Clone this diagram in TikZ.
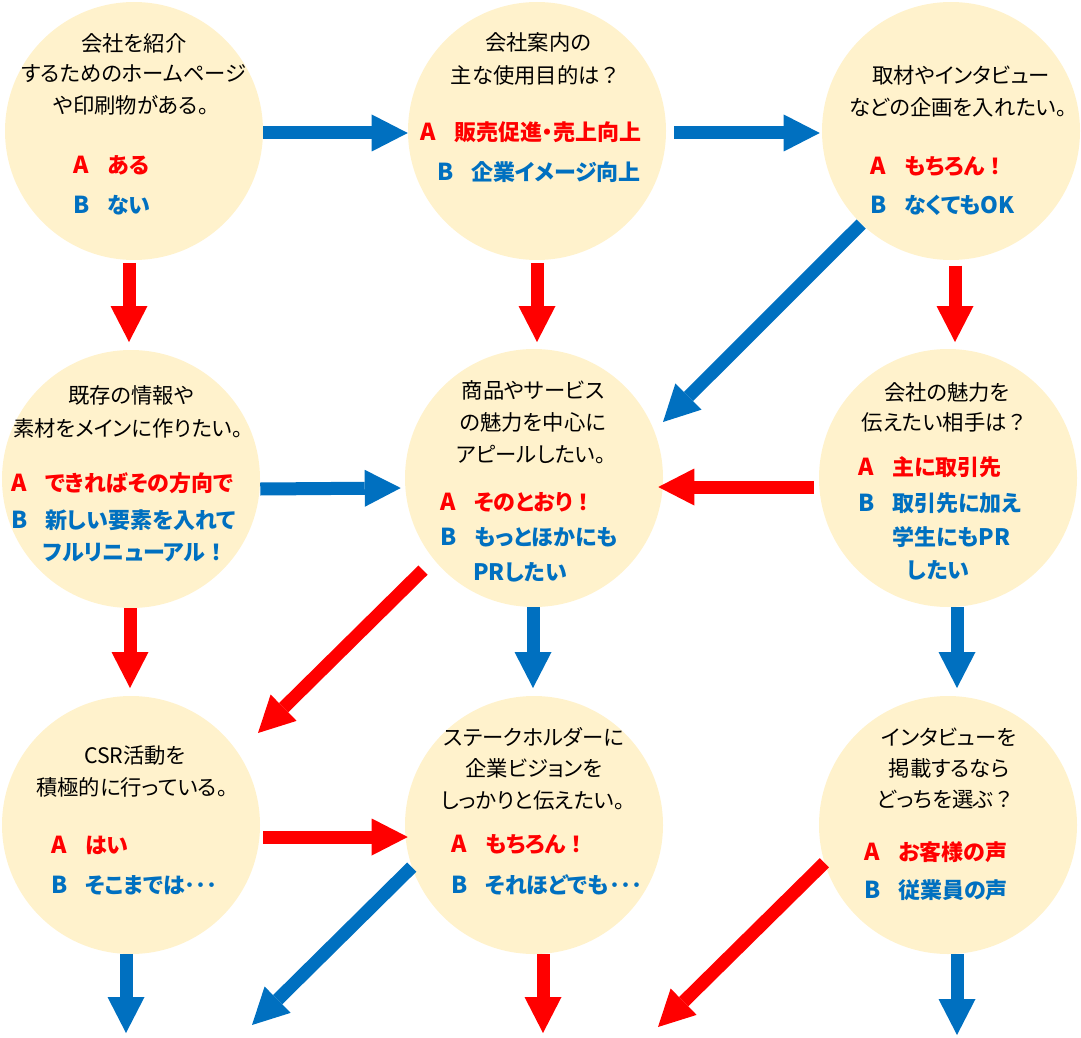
\documentclass[tikz,border=0pt]{standalone}
\usepackage{fontspec}
\setmainfont{Noto Sans CJK JP}[RawFeature=+palt]
\newfontfamily\jpfull{Noto Sans CJK JP}
\usetikzlibrary{arrows.meta}
\definecolor{cfill}{HTML}{FFF2CC}
\definecolor{cred}{HTML}{FF0000}
\definecolor{cblue}{HTML}{0070C0}
\newcommand{\opt}[2]{\makebox[25.5pt][l]{\fontsize{17.5pt}{18pt}\selectfont #1}#2}
\newcommand{\fw}[1]{{\jpfull #1}}
\tikzset{
  qcircle/.style={circle, fill=cfill, minimum size=193.5pt, inner sep=0pt},
  qtext/.style={font=\fontsize{16pt}{18pt}\selectfont, text=black, inner sep=0pt, anchor=center},
  atext/.style={font=\bfseries\fontsize{16.5pt}{18pt}\selectfont, text=cred, inner sep=0pt, anchor=west},
  btext/.style={font=\bfseries\fontsize{16.5pt}{18pt}\selectfont, text=cblue, inner sep=0pt, anchor=west},
  arr/.style={line width=9.75pt, -{Triangle[length=27pt,width=27.75pt,line width=0pt]}},
  barrow/.style={arr, draw=cblue},
  rarrow/.style={arr, draw=cred},
}
\begin{document}
\begin{tikzpicture}[x=0.75pt,y=-0.75pt]
\useasboundingbox (0,0) rectangle (1081,1038);
% circles
\node[qcircle] (c1) at (134,131) {};
\node[qcircle] (c2) at (537,131) {};
\node[qcircle] (c3) at (951,131) {};
\node[qcircle] (c4) at (131,479) {};
\node[qcircle] (c5) at (534,478) {};
\node[qcircle] (c6) at (948,478) {};
\node[qcircle] (c7) at (131,825) {};
\node[qcircle] (c8) at (534,825) {};
\node[qcircle] (c9) at (948,825) {};
% circle 1
\node[qtext] (t1a) at (134,43) {会社を紹介};
\node[qtext] (t1b) at (134,74) {するためのホームページ};
\node[qtext] (t1c) at (131,105) {や印刷物がある。};
\node[atext] (o1a) at (73,165) {\opt{A}{ある}};
\node[btext] (o1b) at (73,205) {\opt{B}{ない}};
% circle 2
\node[qtext] (t2a) at (538,42) {会社案内の};
\node[qtext] (t2b) at (536,75) {主な使用目的は\fw{？}};
\node[atext] (o2a) at (420,132) {\opt{A}{販売促進・売上向上}};
\node[btext] (o2b) at (437,172) {\opt{B}{企業イメージ向上}};
% circle 3
\node[qtext] (t3a) at (961,75) {取材やインタビュー};
\node[qtext] (t3b) at (958,107) {などの企画を入れたい。};
\node[atext] (o3a) at (870,167) {\opt{A}{もちろん\fw{！}}};
\node[btext] (o3b) at (870,205) {\opt{B}{なくても{\fontsize{17pt}{18pt}\selectfont OK}}};
% circle 4
\node[qtext] (t4a) at (131,395) {既存の情報や};
\node[qtext] (t4b) at (128,428) {素材をメインに作りたい。};
\node[atext] (o4a) at (11,483) {\opt{A}{できればその方向で}};
\node[btext] (o4b) at (11,520) {\opt{B}{新しい要素を入れて}};
\node[btext] (o4c) at (43,553) {フルリニューアル\fw{！}};
% circle 5
\node[qtext] (t5a) at (533,390) {商品やサービス};
\node[qtext] (t5b) at (533,422) {の魅力を中心に};
\node[qtext] (t5c) at (531,455) {アピールしたい。};
\node[atext] (o5a) at (440,502) {\opt{A}{そのとおり\fw{！}}};
\node[btext] (o5b) at (440,537) {\opt{B}{もっとほかにも}};
\node[btext] (o5c) at (473,572) {{\fontsize{17pt}{18pt}\selectfont PR}したい};
% circle 6
\node[qtext] (t6a) at (947,392) {会社の魅力を};
\node[qtext] (t6b) at (945,422) {伝えたい相手は\fw{？}};
\node[atext] (o6a) at (858,467) {\opt{A}{主に取引先}};
\node[btext] (o6b) at (858,503) {\opt{B}{取引先に加え}};
\node[btext] (o6c) at (892,537) {学生にも{\fontsize{17pt}{18pt}\selectfont PR}};
\node[btext] (o6d) at (907,570) {したい};
% circle 7
\node[qtext] (t7a) at (135,755) {CSR活動を};
\node[qtext] (t7b) at (132,787) {積極的に行っている。};
\node[atext] (o7a) at (51,845) {\opt{A}{はい}};
\node[btext] (o7b) at (51,885) {\opt{B}{そこまでは･･･}};
% circle 8
\node[qtext] (t8a) at (534,737) {ステークホルダーに};
\node[qtext] (t8b) at (534,768) {企業ビジョンを};
\node[qtext] (t8c) at (533,800) {しっかりと伝えたい。};
\node[atext] (o8a) at (451,845) {\opt{A}{もちろん\fw{！}}};
\node[btext] (o8b) at (451,885) {\opt{B}{それほどでも･･･}};
% circle 9
\node[qtext] (t9a) at (949,737) {インタビューを};
\node[qtext] (t9b) at (949,768) {掲載するなら};
\node[qtext] (t9c) at (946,800) {どっちを選ぶ\fw{？}};
\node[atext] (o9a) at (864,852) {\opt{A}{お客様の声}};
\node[btext] (o9b) at (864,890) {\opt{B}{従業員の声}};
% free ends
\coordinate (e3) at (129,342);
\coordinate (e4) at (537,342);
\coordinate (e5) at (955,342);
\coordinate (e6) at (663,422);
\coordinate (e9) at (130,688);
\coordinate (e10) at (533,688);
\coordinate (e11) at (258,733);
\coordinate (e12) at (957,688);
\coordinate (e14) at (126,1033);
\coordinate (e15) at (252,1025);
\coordinate (e16) at (543,1033);
\coordinate (e17) at (658,1027);
\coordinate (e18) at (957,1035);
% arrows
\draw[barrow] ([yshift=-1.5pt]c1.east) -- ([yshift=-1.5pt]c2.west);
\draw[barrow] ([shift={(8,2)}]c2.east) -- ([shift={(-2,2)}]c3.west);
\draw[rarrow] ([yshift=-2pt]c1.south -| e3) -- (e3);
\draw[rarrow] ([yshift=-2pt]c2.south -| e4) -- (e4);
\draw[rarrow] ([yshift=-4pt]c3.south -| e5) -- (e5);
\draw[barrow] (c3.226) -- (e6);
\draw[barrow] ([yshift=-7.5pt]c4.east) -- ([shift={(-4,10)}]c5.west);
\draw[rarrow] ([shift={(-5,9)}]c6.west) -- ([shift={(-5,9)}]c5.east);
\draw[rarrow] (c4.south -| e9) -- (e9);
\draw[barrow] (c5.south -| e10) -- (e10);
\draw[rarrow] ([shift={(-12,9)}]c5.220) -- (e11);
\draw[barrow] (c6.south -| e12) -- (e12);
\draw[rarrow] ([shift={(3,12)}]c7.east) -- ([shift={(3,12)}]c8.west);
\draw[barrow] (c7.south -| e14) -- (e14);
\draw[barrow] (c8.199) -- (e15);
\draw[rarrow] (c8.south -| e16) -- (e16);
\draw[rarrow] (c9.197) -- (e17);
\draw[barrow] (c9.south -| e18) -- (e18);
\end{tikzpicture}
\end{document}
